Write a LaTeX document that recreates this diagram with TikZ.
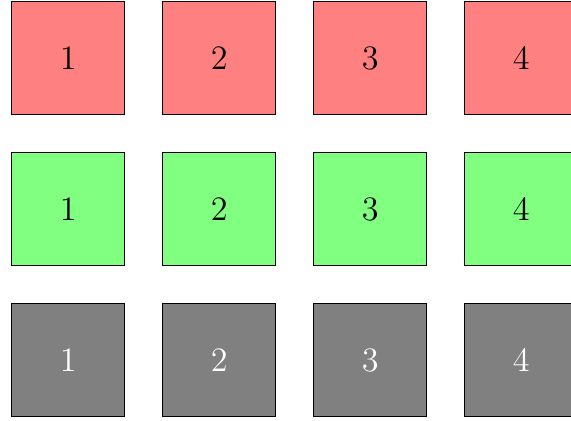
\documentclass[tikz,border=0pt]{standalone}
\begin{document}
\begin{tikzpicture}[
  sq/.style={draw=black, minimum size=1.5cm, inner sep=0pt, font=\fontsize{12.9}{15}\selectfont},
  redsq/.style={sq, fill=red!50},
  greensq/.style={sq, fill=green!50},
  graysq/.style={sq, fill=gray, text=white}]
\useasboundingbox (0,0) rectangle (7.563,-5.576);
\foreach \i in {1,2,3,4} {
  \node[redsq]   (r\i) at ({0.903+2*(\i-1)},-0.771) {\i};
  \node[greensq] (g\i) at ({0.903+2*(\i-1)},-2.771) {\i};
  \node[graysq]  (k\i) at ({0.903+2*(\i-1)},-4.771) {\i};
}
\end{tikzpicture}
\end{document}
